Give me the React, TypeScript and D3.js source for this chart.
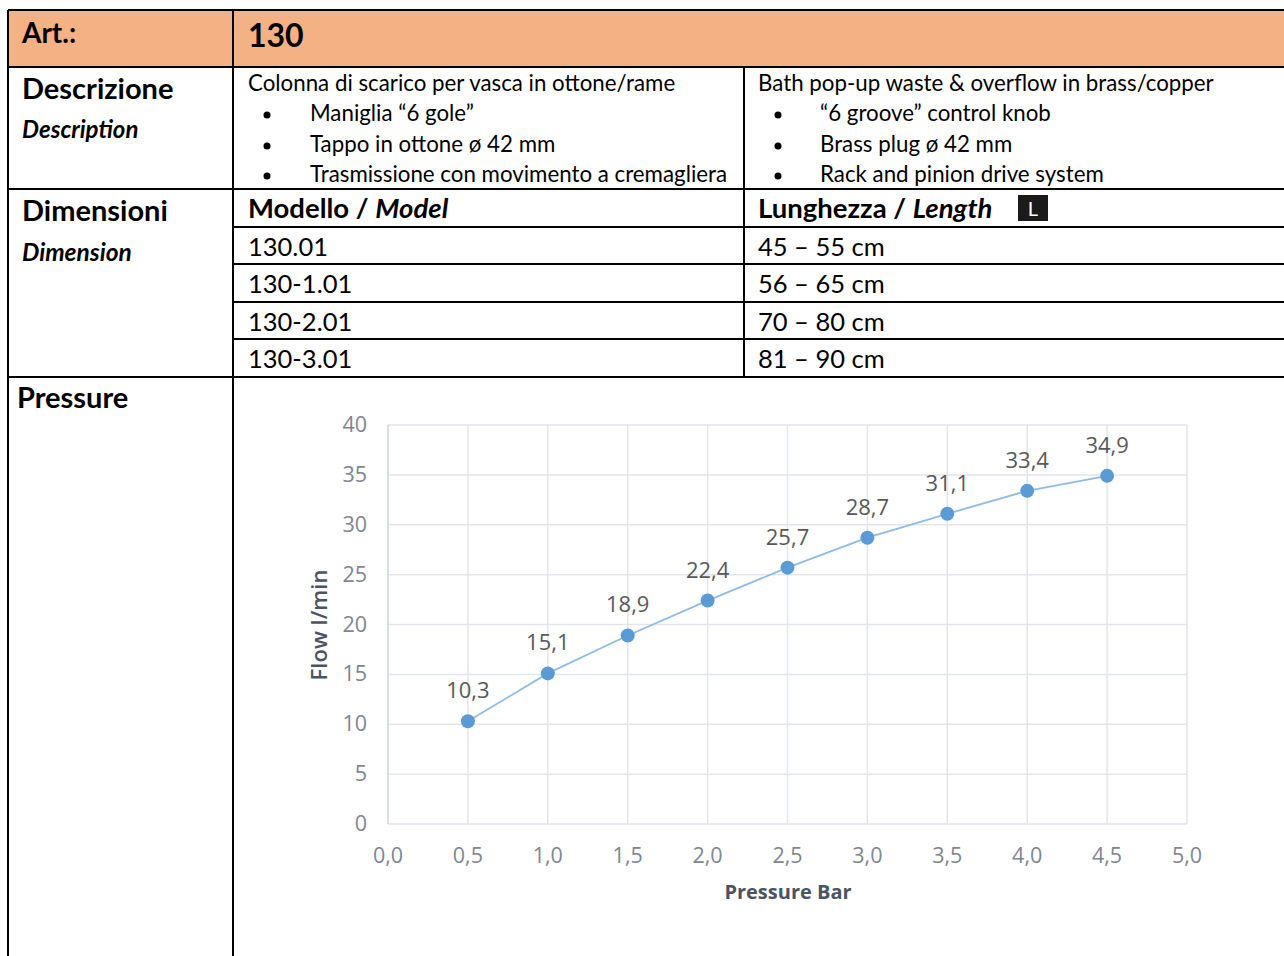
import { useEffect, useRef } from 'react'
import * as d3 from 'd3'

// Pressure / flow curve
const pressure = [0.5, 1.0, 1.5, 2.0, 2.5, 3.0, 3.5, 4.0, 4.5]
const flow = [10.3, 15.1, 18.9, 22.4, 25.7, 28.7, 31.1, 33.4, 34.9]
const xTicks = [0, 0.5, 1, 1.5, 2, 2.5, 3, 3.5, 4, 4.5, 5]
const yTicks = [0, 5, 10, 15, 20, 25, 30, 35, 40]

// Table content
const descIt = 'Colonna di scarico per vasca in ottone/rame'
const bulletsIt = ['Maniglia “6 gole”', 'Tappo in ottone ø 42 mm', 'Trasmissione con movimento a cremagliera']
const descEn = 'Bath pop-up waste & overflow in brass/copper'
const bulletsEn = ['“6 groove” control knob', 'Brass plug ø 42 mm', 'Rack and pinion drive system']
const models = ['130.01', '130-1.01', '130-2.01', '130-3.01']
const lengths = ['45 – 55 cm', '56 – 65 cm', '70 – 80 cm', '81 – 90 cm']

const fmt = (v: number) => v.toFixed(1).replace('.', ',')

export default function App() {
  const svgRef = useRef<SVGSVGElement>(null)

  useEffect(() => {
    if (!svgRef.current) return
    const svg = d3.select(svgRef.current)
    svg.selectAll('*').remove()

    const W = 1284
    const H = 956
    const font = 'Lato, sans-serif'
    svg.attr('width', W).attr('height', H)

    // ---- table ----
    const t = svg.append('g').attr('font-family', font).attr('fill', '#000')
    t.append('rect').attr('x', 8).attr('y', 10).attr('width', W - 8).attr('height', 57).attr('fill', '#F4B183')

    const hLines: [number, number][] = [[10, 8], [67, 8], [189, 8], [227, 233], [264, 233], [302, 233], [339, 233], [377, 8]]
    hLines.forEach(([y, x0]) => {
      t.append('line').attr('x1', x0).attr('x2', W).attr('y1', y).attr('y2', y).attr('stroke', '#000').attr('stroke-width', 2)
    })
    const vLines: [number, number, number][] = [[8, 10, H], [233, 10, H], [744, 67, 377]]
    vLines.forEach(([x, y0, y1]) => {
      t.append('line').attr('x1', x).attr('x2', x).attr('y1', y0).attr('y2', y1).attr('stroke', '#000').attr('stroke-width', 2)
    })

    const txt = (x: number, y: number, s: string, size: number, weight = 400, italic = false) =>
      t.append('text').attr('x', x).attr('y', y).attr('font-size', size).attr('font-weight', weight)
        .attr('font-style', italic ? 'italic' : 'normal').text(s)

    txt(22, 43, 'Art.:', 28, 700)
    txt(248, 47, '130', 32, 700)
    txt(22, 99, 'Descrizione', 29, 700)
    txt(22, 138, 'Description', 24, 700, true)
    txt(22, 221, 'Dimensioni', 29, 700)
    txt(22, 261, 'Dimension', 24.5, 700, true)
    txt(17, 408, 'Pressure', 29, 700)

    txt(248, 91, descIt, 22.3)
    txt(758, 91, descEn, 22.3)
    const bulletY = [121, 152, 182]
    bulletsIt.forEach((s, i) => {
      t.append('circle').attr('cx', 267).attr('cy', bulletY[i] - 6).attr('r', 3.5)
      txt(310, bulletY[i], s, 22.3)
    })
    bulletsEn.forEach((s, i) => {
      t.append('circle').attr('cx', 778).attr('cy', bulletY[i] - 6).attr('r', 3.5)
      txt(820, bulletY[i], s, 22.3)
    })

    const mh = t.append('text').attr('x', 248).attr('y', 218).attr('font-size', 27.5).attr('font-weight', 700)
    mh.append('tspan').text('Modello / ')
    mh.append('tspan').attr('font-style', 'italic').text('Model')
    const lh = t.append('text').attr('x', 758).attr('y', 218).attr('font-size', 27.5).attr('font-weight', 700)
    lh.append('tspan').text('Lunghezza / ')
    lh.append('tspan').attr('font-style', 'italic').text('Length')
    t.append('rect').attr('x', 1018).attr('y', 195).attr('width', 30).attr('height', 26).attr('fill', '#1a1a1a')
    t.append('text').attr('x', 1033).attr('y', 216).attr('text-anchor', 'middle').attr('font-size', 20)
      .attr('fill', '#fff').text('L')

    const rowY = [256, 293, 331, 368]
    models.forEach((m, i) => txt(248, rowY[i], m, 25.5))
    lengths.forEach((l, i) => txt(758, rowY[i], l, 25.5))

    // ---- chart ----
    const cf = '"Open Sans", sans-serif'
    const x = d3.scaleLinear().domain([0, 5]).range([388, 1187])
    const y = d3.scaleLinear().domain([0, 40]).range([824, 425])
    const c = svg.append('g').attr('font-family', cf)

    c.append('g').selectAll('line.h').data(yTicks).join('line')
      .attr('x1', x(0)).attr('x2', x(5)).attr('y1', (d) => y(d)).attr('y2', (d) => y(d))
      .attr('stroke', '#e2e5ec').attr('stroke-width', 1.5)
    c.append('g').selectAll('line.v').data(xTicks.slice(1)).join('line')
      .attr('x1', (d) => x(d)).attr('x2', (d) => x(d)).attr('y1', y(0)).attr('y2', y(40))
      .attr('stroke', '#e2e5ec').attr('stroke-width', 1.5)
    c.append('line').attr('x1', x(0)).attr('x2', x(0)).attr('y1', y(0)).attr('y2', y(40))
      .attr('stroke', '#cdd4e2').attr('stroke-width', 1.5)

    c.append('g').selectAll('text').data(yTicks).join('text')
      .attr('x', 367).attr('y', (d) => y(d) + 7).attr('text-anchor', 'end')
      .attr('font-size', 21.5).attr('fill', '#7f868f').text((d) => String(d))
    c.append('g').selectAll('text').data(xTicks).join('text')
      .attr('x', (d) => x(d)).attr('y', 863).attr('text-anchor', 'middle')
      .attr('font-size', 21.5).attr('fill', '#7f868f').text((d) => fmt(d))

    c.append('text').attr('x', 788).attr('y', 899).attr('text-anchor', 'middle')
      .attr('font-size', 20).attr('font-weight', 700).attr('fill', '#4a5364').text('Pressure Bar')
    c.append('text').attr('transform', `translate(327,625) rotate(-90)`).attr('text-anchor', 'middle')
      .attr('font-size', 22).attr('font-weight', 600).attr('fill', '#4a5364').text('Flow l/min')

    const pts = pressure.map((p, i) => [p, flow[i]] as [number, number])
    const line = d3.line<[number, number]>().x((d) => x(d[0])).y((d) => y(d[1]))
    c.append('path').datum(pts).attr('d', line).attr('fill', 'none')
      .attr('stroke', '#8fbbe6').attr('stroke-width', 1.8)
    c.append('g').selectAll('circle').data(pts).join('circle')
      .attr('cx', (d) => x(d[0])).attr('cy', (d) => y(d[1])).attr('r', 7)
      .attr('fill', '#5b9bd5')
    c.append('g').selectAll('text').data(pts).join('text')
      .attr('x', (d) => x(d[0])).attr('y', (d) => y(d[1]) - 23).attr('text-anchor', 'middle')
      .attr('font-size', 22).attr('fill', '#595959').text((d) => fmt(d[1]))
  }, [])

  return (
    <div style={{ position: 'absolute', left: 0, top: 0 }}>
      <svg ref={svgRef} style={{ display: 'block' }} />
    </div>
  )
}
